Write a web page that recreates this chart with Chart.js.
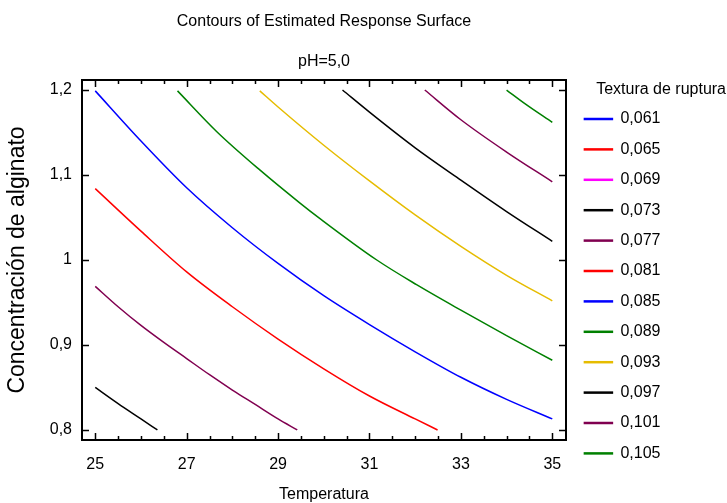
<!DOCTYPE html>
<html>
<head>
<meta charset="utf-8">
<script src="https://cdn.jsdelivr.net/npm/chart.js@4/dist/chart.umd.min.js"></script>
<style>
  html, body { margin: 0; padding: 0; background: #fff; }
  canvas { display: block; }
</style>
</head>
<body>
<canvas id="chart" width="727" height="503"></canvas>
<script>
// axis ticks
const tempTicks = [25, 27, 29, 31, 33, 35];
const concTicks = [0.8, 0.9, 1.0, 1.1, 1.2];

// contour levels (legend) and their colours
const levels = ["0,061", "0,065", "0,069", "0,073", "0,077", "0,081",
                "0,085", "0,089", "0,093", "0,097", "0,101", "0,105"];
const levelColors = ["#0000ff", "#ff0000", "#ff00ff", "#000000", "#800050", "#ff0000",
                     "#0000ff", "#008000", "#e6bc00", "#000000", "#800050", "#008000"];

// contour lines: [temperatura, concentración]
const c061 = [];
const c065 = [];
const c069 = [];
const c073 = [[25, 0.850], [25.5, 0.831], [26, 0.813], [26.36, 0.800]];
const c077 = [[25, 0.969], [25.5, 0.945], [26, 0.923], [26.5, 0.903], [27, 0.884],
              [27.5, 0.865], [28, 0.847], [28.5, 0.830], [29, 0.813], [29.42, 0.800]];
const c081 = [[25, 1.084], [26, 1.034], [27, 0.986], [28, 0.945], [29, 0.907],
              [30, 0.872], [31, 0.840], [32, 0.813], [32.49, 0.800]];
const c085 = [[25, 1.199], [26, 1.140], [27, 1.085], [28, 1.038], [29, 0.996], [30, 0.958],
              [31, 0.924], [32, 0.892], [33, 0.862], [34, 0.836], [35, 0.813]];
const c089 = [[26.8, 1.199], [27.66, 1.151], [28.6, 1.106], [29.48, 1.067], [29.91, 1.049],
              [31.16, 1.000], [32.03, 0.971], [33, 0.941], [34, 0.911], [35, 0.882]];
const c093 = [[28.6, 1.199], [29, 1.180], [30, 1.135], [31, 1.093], [32, 1.053],
              [33, 1.016], [34, 0.982], [35, 0.952]];
const c097 = [[30.41, 1.200], [31, 1.174], [32, 1.132], [33, 1.094], [34, 1.057], [35, 1.022]];
const c101 = [[32.21, 1.200], [33, 1.165], [34, 1.127], [35, 1.092]];
const c105 = [[34, 1.200], [34.4, 1.184], [35, 1.162]];

const contours = [c061, c065, c069, c073, c077, c081, c085, c089, c093, c097, c101, c105];

const SANS = "'Liberation Sans', Arial, sans-serif";

const comma = v => String(Math.round(v * 10) / 10).replace(".", ",");

// frame, inside ticks and minor ticks like the original plot
const framePlugin = {
    id: "frame",
    afterDatasetsDraw(chart) {
        const { ctx, chartArea: a, scales: { x, y } } = chart;
        ctx.save();
        ctx.strokeStyle = "#000";
        ctx.lineWidth = 2;
        ctx.strokeRect(a.left, a.top, a.right - a.left, a.bottom - a.top);

        ctx.lineWidth = 1.5;
        ctx.beginPath();
        for (let v = tempTicks[0]; v <= tempTicks[tempTicks.length - 1] + 1e-9; v += 0.5) {
            const px = Math.round(x.getPixelForValue(v)) + 0.5;
            const len = tempTicks.some(t => Math.abs(t - v) < 1e-6) ? 7 : 4;
            ctx.moveTo(px, a.bottom); ctx.lineTo(px, a.bottom - len);
            ctx.moveTo(px, a.top); ctx.lineTo(px, a.top + len);
        }
        concTicks.forEach(v => {
            const py = Math.round(y.getPixelForValue(v)) + 0.5;
            ctx.moveTo(a.left, py); ctx.lineTo(a.left + 7, py);
            ctx.moveTo(a.right, py); ctx.lineTo(a.right - 7, py);
        });
        ctx.stroke();
        ctx.restore();
    }
};

// the legend sits in a fixed column on the right
const legendColumn = {
    id: "legendColumn",
    beforeLayout(chart) {
        const lg = chart.legend;
        if (lg && !lg._fixed) {
            const fit = lg.fit.bind(lg);
            lg.fit = function () { fit(); this.width = 161; };
            lg._fixed = true;
        }
    },
    afterLayout(chart) {
        const lg = chart.legend;
        lg.left = chart.chartArea.right + 4;
        lg.right = 726;
        lg.width = lg.right - lg.left;
    }
};

new Chart(document.getElementById("chart"), {
    type: "scatter",

    data: {
        datasets: levels.map((lev, i) => ({
            label: lev,
            data: contours[i].map(p => ({ x: p[0], y: p[1] })),
            showLine: true,
            borderColor: levelColors[i],
            backgroundColor: levelColors[i],
            borderWidth: 1.5,
            pointRadius: 0,
            pointHoverRadius: 0,
            cubicInterpolationMode: "monotone"
        }))
    },

    options: {
        responsive: false,
        animation: false,
        events: [],

        layout: {
            padding: 0
        },

        plugins: {
            title: {
                display: true,
                fullSize: false,
                text: "Contours of Estimated Response Surface",
                color: "#000",
                font: { family: SANS, size: 16, weight: "normal", lineHeight: 1.2 },
                padding: { top: 12.4, bottom: 8 }
            },
            subtitle: {
                display: true,
                fullSize: false,
                text: "pH=5,0",
                color: "#000",
                font: { family: SANS, size: 16, weight: "normal", lineHeight: 1.2 },
                padding: { top: 12.8, bottom: 8.4 }
            },
            legend: {
                display: true,
                position: "right",
                align: "start",
                fullSize: true,
                title: {
                    display: true,
                    text: "Textura de ruptura",
                    position: "end",
                    color: "#000",
                    font: { family: SANS, size: 16, lineHeight: 1 },
                    padding: { top: 82, bottom: -1.4 }
                },
                labels: {
                    color: "#000",
                    font: { family: SANS, size: 16 },
                    boxWidth: 28,
                    boxHeight: 1,
                    padding: 14.4
                }
            },
            tooltip: { enabled: false }
        },

        scales: {
            x: {
                type: "linear",
                min: 24.71,
                max: 35.3,
                afterBuildTicks: s => { s.ticks = tempTicks.map(v => ({ value: v })); },
                afterFit: s => { s.height = 63; },
                grid: { display: false, drawTicks: false },
                border: { display: false },
                ticks: {
                    color: "#000",
                    font: { family: SANS, size: 16 },
                    padding: 15,
                    maxRotation: 0,
                    callback: v => comma(v)
                },
                title: {
                    display: true,
                    text: "Temperatura",
                    color: "#000",
                    font: { family: SANS, size: 16, lineHeight: 1 },
                    padding: { top: 0, bottom: 0 }
                }
            },
            y: {
                type: "linear",
                min: 0.7882,
                max: 1.2118,
                afterBuildTicks: s => { s.ticks = concTicks.map(v => ({ value: v })); },
                afterFit: s => { s.width = 82; },
                grid: { display: false, drawTicks: false },
                border: { display: false },
                ticks: {
                    color: "#000",
                    font: { family: SANS, size: 16 },
                    padding: 10,
                    callback: v => comma(v)
                },
                title: {
                    display: true,
                    text: "Concentración de alginato",
                    color: "#000",
                    font: { family: SANS, size: 23, lineHeight: 1 },
                    padding: { top: 6, bottom: 0 }
                }
            }
        }
    },

    plugins: [framePlugin, legendColumn]
});
</script>
</body>
</html>
